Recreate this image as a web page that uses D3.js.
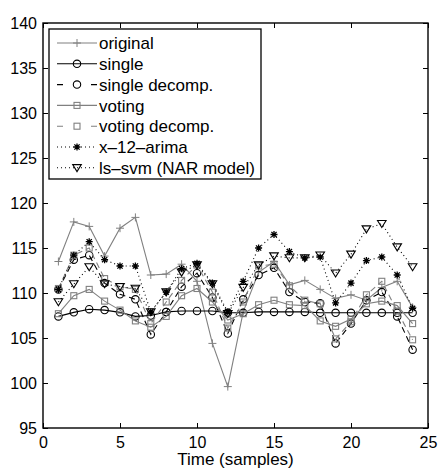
<!DOCTYPE html>
<html>
<head>
<meta charset="utf-8">
<script src="https://cdn.jsdelivr.net/npm/d3@7"></script>
<style>
  body { margin: 0; background: #fff; }
  svg { font-family: "Liberation Sans", Arial, sans-serif; }
</style>
</head>
<body>
<div id="chart"></div>
<script>
const times = [1, 2, 3, 4, 5, 6, 7, 8, 9, 10, 11, 12, 13, 14, 15, 16, 17, 18, 19, 20, 21, 22, 23, 24];

const original = [113.5, 117.9, 117.4, 114.1, 117.2, 118.4, 112.0, 112.1, 113.2, 111.3, 104.4, 99.6,
                  107.9, 112.3, 113.5, 110.9, 111.4, 110.4, 109.4, 109.8, 109.2, 110.6, 111.3, 108.4];
const single = [107.4, 107.85, 108.2, 108.1, 107.85, 107.4, 107.5, 107.9, 108.0, 108.0, 108.0, 107.8,
                107.8, 107.9, 107.9, 107.9, 107.9, 107.8, 107.8, 107.8, 107.8, 107.8, 107.8, 107.8];
const singleDecomp = [110.4, 113.7, 114.2, 111.1, 109.85, 109.3, 105.4, 107.9, 110.7, 112.2, 109.5, 105.5,
                      109.3, 112.0, 112.8, 110.1, 109.0, 108.85, 104.4, 106.6, 109.2, 110.1, 107.4, 103.7];
const voting = [107.7, 109.7, 110.4, 109.1, 108.1, 106.9, 106.2, 107.4, 109.7, 110.5, 109.0, 107.0,
                107.7, 108.7, 109.2, 108.7, 108.6, 106.9, 106.3, 107.1, 108.8, 109.1, 108.6, 106.6];
const votingDecomp = [110.5, 114.2, 115.0, 111.6, 110.7, 110.4, 106.6, 109.0, 111.4, 113.1, 110.1, 106.1,
                      109.0, 113.0, 113.2, 110.8, 109.2, 108.8, 104.9, 106.8, 109.8, 111.3, 108.0, 104.8];
const arima = [110.4, 114.2, 115.7, 113.7, 113.0, 113.0, 107.9, 110.1, 112.7, 113.3, 111.1, 107.9,
               111.3, 115.0, 116.5, 114.6, 113.9, 114.0, 108.9, 111.1, 113.6, 114.0, 112.0, 108.3];
const lssvm = [109.0, 111.0, 112.9, 111.0, 110.7, 110.5, 107.9, 110.1, 112.3, 113.1, 111.0, 107.7,
               110.6, 113.1, 114.1, 113.9, 113.9, 114.2, 112.2, 114.3, 117.1, 117.7, 115.1, 112.9];

const seriesNames = ["original", "single", "single decomp.", "voting", "voting decomp.", "x\u201312\u2013arima", "ls\u2013svm (NAR model)"];
const xTicks = [0, 5, 10, 15, 20, 25];
const yTicks = [95, 100, 105, 110, 115, 120, 125, 130, 135, 140];

const width = 438, height = 469;
const plotL = 43, plotR = 428, plotT = 23, plotB = 428;
const gray = "#808080";

const series = [
  { name: seriesNames[0], values: original, color: gray, dash: null, legDash: null, marker: "plus" },
  { name: seriesNames[1], values: single, color: "#000", dash: null, legDash: null, marker: "circle" },
  { name: seriesNames[2], values: singleDecomp, color: "#000", dash: "6,4", legDash: "6,28", marker: "circle" },
  { name: seriesNames[3], values: voting, color: gray, dash: null, legDash: null, marker: "square" },
  { name: seriesNames[4], values: votingDecomp, color: gray, dash: "6,4", legDash: "6,28", marker: "square" },
  { name: seriesNames[5], values: arima, color: "#000", dash: "1,3", legDash: "1,3", marker: "star" },
  { name: seriesNames[6], values: lssvm, color: "#000", dash: "1,3", legDash: "1,3", marker: "tri" }
];

const x = d3.scaleLinear().domain([0, 25]).range([plotL, plotR]);
const y = d3.scaleLinear().domain([95, 140]).range([plotB, plotT]);

const svg = d3.select("#chart").append("svg")
    .attr("width", width)
    .attr("height", height);

// marker shapes, centred on 0,0
function drawMarker(g, type, color) {
  if (type === "plus") {
    g.append("path").attr("d", "M-4,0H4M0,-4V4").attr("stroke", color).attr("stroke-width", 1);
  } else if (type === "circle") {
    g.append("circle").attr("r", 3.7).attr("fill", "none").attr("stroke", color).attr("stroke-width", 1.1);
  } else if (type === "square") {
    g.append("rect").attr("x", -3).attr("y", -3).attr("width", 6).attr("height", 6)
      .attr("fill", "none").attr("stroke", color).attr("stroke-width", 1.1);
  } else if (type === "star") {
    g.append("path").attr("d", "M-3.5,0H3.5M0,-3.5V3.5M-2.6,-2.6L2.6,2.6M-2.6,2.6L2.6,-2.6")
      .attr("stroke", color).attr("stroke-width", 1.3);
  } else if (type === "tri") {
    g.append("path").attr("d", "M-4.3,-3.2L4.3,-3.2L0,3.8Z")
      .attr("fill", "none").attr("stroke", color).attr("stroke-width", 1.1);
  }
}

// axes, ticks pointing inward on every side
const xAxis = d3.axisBottom(x).tickValues(xTicks).tickSizeInner(-5).tickSizeOuter(0).tickPadding(9);
const yAxis = d3.axisLeft(y).tickValues(yTicks).tickSizeInner(-5).tickSizeOuter(0).tickPadding(6);

const gx = svg.append("g").attr("transform", `translate(0,${plotB})`).call(xAxis);
const gy = svg.append("g").attr("transform", `translate(${plotL},0)`).call(yAxis);
svg.append("g").attr("transform", `translate(0,${plotT})`)
  .call(d3.axisTop(x).tickValues(xTicks).tickSizeInner(-5).tickSizeOuter(0).tickFormat(""));
svg.append("g").attr("transform", `translate(${plotR},0)`)
  .call(d3.axisRight(y).tickValues(yTicks).tickSizeInner(-5).tickSizeOuter(0).tickFormat(""));

svg.selectAll(".domain").remove();
svg.selectAll(".tick line").attr("stroke", "#000");
svg.selectAll(".tick text").attr("font-size", 16).attr("fill", "#000")
  .attr("font-family", "'Liberation Sans', Arial, sans-serif");
gx.selectAll(".tick text").attr("dy", "0.71em");

// data
const line = d3.line().x((d, i) => x(times[i])).y(d => y(d));
const plot = svg.append("g");
series.forEach(s => {
  plot.append("path")
    .attr("d", line(s.values))
    .attr("fill", "none")
    .attr("stroke", s.color)
    .attr("stroke-width", 1.1)
    .attr("stroke-dasharray", s.dash);
  s.values.forEach((v, i) => {
    const m = plot.append("g").attr("transform", `translate(${x(times[i])},${y(v)})`);
    drawMarker(m, s.marker, s.color);
  });
});

// frame
svg.append("rect")
  .attr("x", plotL).attr("y", plotT)
  .attr("width", plotR - plotL).attr("height", plotB - plotT)
  .attr("fill", "none").attr("stroke", "#000").attr("stroke-width", 1.4);

// axis label
svg.append("text")
  .attr("x", (plotL + plotR) / 2).attr("y", 465)
  .attr("text-anchor", "middle").attr("font-size", 17)
  .text("Time (samples)");

// legend
const legend = svg.append("g");
legend.append("rect")
  .attr("x", 49).attr("y", 29).attr("width", 212).attr("height", 150)
  .attr("fill", "#fff").attr("stroke", "#000").attr("stroke-width", 1.3);
series.forEach((s, i) => {
  const cy = 43 + i * 20.8;
  legend.append("line")
    .attr("x1", 57).attr("x2", 97).attr("y1", cy).attr("y2", cy)
    .attr("stroke", s.color).attr("stroke-width", 1.1)
    .attr("stroke-dasharray", s.legDash);
  drawMarker(legend.append("g").attr("transform", `translate(77,${cy})`), s.marker, s.color);
  legend.append("text")
    .attr("x", 99).attr("y", cy).attr("dy", "0.36em")
    .attr("font-size", 17)
    .text(s.name);
});
</script>
</body>
</html>
